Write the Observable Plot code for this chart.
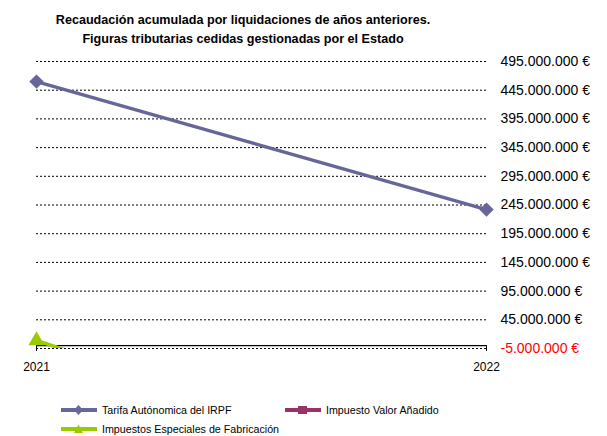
<!DOCTYPE html>
<html>
<head>
<meta charset="utf-8">
<script src="https://cdn.jsdelivr.net/npm/d3@7"></script>
<script src="https://cdn.jsdelivr.net/npm/@observablehq/plot@0.6"></script>
<style>
  html, body { margin: 0; padding: 0; background: #fff; }
  body { width: 607px; height: 436px; position: relative; overflow: hidden; font-family: "Liberation Sans", Arial, sans-serif; }
  #title { position: absolute; left: 0; width: 486px; top: 11px; text-align: center; font-weight: bold; font-size: 12.6px; line-height: 19px; color: #000; }
  #chart { position: absolute; left: 0; top: 0; }
  .leg { position: absolute; font-size: 10.7px; color: #000; display: flex; align-items: center; white-space: nowrap; }
  .leg svg { margin-right: 5px; }
</style>
</head>
<body>
<div id="chart"></div>
<div id="title">Recaudación acumulada por liquidaciones de años anteriores.<br>Figuras tributarias cedidas gestionadas por el Estado</div>
<div id="legend"></div>
<script>
const years = [2021, 2022];
const seriesNames = ["Tarifa Autónomica del IRPF", "Impuesto Valor Añadido", "Impuestos Especiales de Fabricación"];
const irpfValues = [460000000, 237000000];
const ivaValues = [null, null];
const iieeValues = [9000000, -250000000];
const yTicks = [495000000, 445000000, 395000000, 345000000, 295000000, 245000000, 195000000, 145000000, 95000000, 45000000, -5000000];

const colors = ["#666699", "#993366", "#99CC00"];
const symbols = ["diamond2", "square", "triangle"];
const yDomain = [-5000000, 495000000];

const allValues = [irpfValues, ivaValues, iieeValues];
const rows = [];
allValues.forEach((vals, si) => vals.forEach((v, i) => rows.push({series: seriesNames[si], year: years[i], value: v})));

const fmt = v => d3.format(",.0f")(v).replace(/,/g, ".").replace("−", "-") + " €";

const posTicks = yTicks.filter(d => d >= 0);
const negTicks = yTicks.filter(d => d < 0);

const marks = [
  Plot.ruleY(yTicks, {stroke: "#000", strokeWidth: 1, strokeDasharray: "2,2"}),
  Plot.axisY(posTicks, {anchor: "right", tickSize: 0, tickPadding: 14, tickFormat: fmt, fontSize: 14, fill: "#000", label: null}),
  Plot.axisY(negTicks, {anchor: "right", tickSize: 0, tickPadding: 14, tickFormat: fmt, fontSize: 14, fill: "#ff0000", label: null}),
  Plot.ruleY([0], {stroke: "#000", strokeWidth: 1.2}),
  Plot.ruleX(years, {y1: 0, y2: -5000000, insetBottom: -3, stroke: "#000", strokeWidth: 1}),
  Plot.text(years, {x: d => d, y: -5000000, dy: 19, text: d => String(d), fontSize: 12, fill: "#000"})
];
seriesNames.forEach((name, si) => {
  const data = rows.filter(r => r.series === name && r.value != null);
  const visible = data.filter(r => r.value >= yDomain[0] && r.value <= yDomain[1]);
  marks.push(Plot.line(data, {x: "year", y: "value", stroke: colors[si], strokeWidth: 3.5, clip: true}));
  marks.push(Plot.dot(visible, {x: "year", y: "value", fill: colors[si], stroke: "none", symbol: symbols[si], r: si === 2 ? 6 : 6.5}));
});

const plot = Plot.plot({
  width: 607,
  height: 436,
  marginTop: 61,
  marginBottom: 88,
  marginLeft: 36,
  marginRight: 121,
  style: {fontFamily: "Liberation Sans, Arial, sans-serif", background: "transparent", overflow: "visible"},
  x: {type: "linear", domain: [2021, 2022], axis: null},
  y: {domain: yDomain, axis: null},
  marks
});
document.getElementById("chart").appendChild(plot);

// legend
const legendPos = [{left: 61, top: 410}, {left: 285, top: 410}, {left: 61, top: 429}];
const legend = document.getElementById("legend");
seriesNames.forEach((name, si) => {
  const div = document.createElement("div");
  div.className = "leg";
  div.style.left = legendPos[si].left + "px";
  div.style.top = (legendPos[si].top - 8) + "px";
  div.style.height = "16px";
  const sym = si === 0 ? '<path d="M17.5,1 L22,6 L17.5,11 L13,6 Z" fill="' + colors[si] + '"/>'
    : si === 1 ? '<rect x="13" y="2" width="9" height="8" fill="' + colors[si] + '"/>'
    : '<path d="M17.5,1.5 L22,10 L13,10 Z" fill="' + colors[si] + '"/>';
  div.innerHTML = '<svg width="36" height="12" viewBox="0 0 36 12"><line x1="0" y1="6" x2="36" y2="6" stroke="' + colors[si] + '" stroke-width="4"/>' + sym + '</svg><span>' + name + '</span>';
  legend.appendChild(div);
});
</script>
</body>
</html>
